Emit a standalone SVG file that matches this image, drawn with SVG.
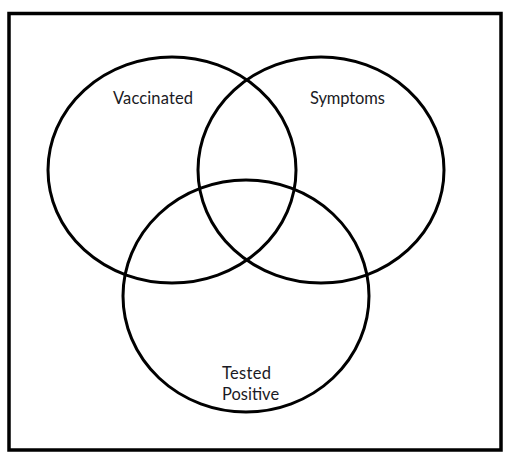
<svg xmlns="http://www.w3.org/2000/svg" width="505" height="460" viewBox="0 0 505 460">
<style>
.c{fill:none;stroke:#000;stroke-width:3}
.t{font-family:Lato,"Open Sans","Liberation Sans",sans-serif;font-size:16.5px;fill:#1a1a24}
</style>
<rect x="0" y="0" width="505" height="460" fill="#fff"/>
<rect id="frame" x="9" y="13.5" width="492" height="436.5" fill="none" stroke="#000" stroke-width="3.5"/>
<g id="vaccinated">
<ellipse class="c" cx="172" cy="170" rx="124" ry="113"/>
<text class="t" x="153" y="104" text-anchor="middle" textLength="80">Vaccinated</text>
</g>
<g id="symptoms">
<ellipse class="c" cx="321" cy="170" rx="123" ry="113"/>
<text class="t" x="347.5" y="104" text-anchor="middle" textLength="75">Symptoms</text>
</g>
<g id="tested-positive">
<ellipse class="c" cx="246" cy="296" rx="123" ry="116"/>
<text class="t" x="222" y="379" textLength="49">Tested</text>
<text class="t" x="222" y="400">Positive</text>
</g>
</svg>
